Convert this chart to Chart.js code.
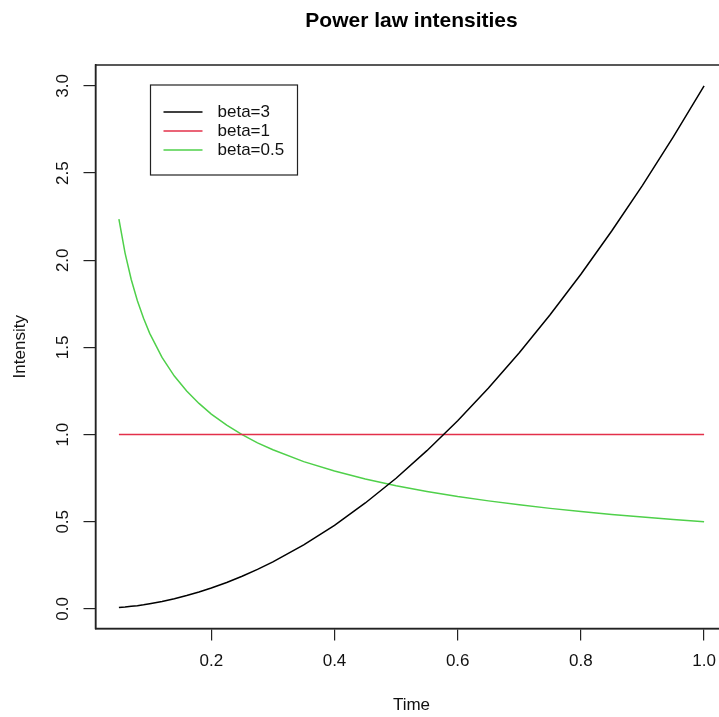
<!DOCTYPE html>
<html>
<head>
<meta charset="utf-8">
<script src="https://cdn.jsdelivr.net/npm/chart.js@4/dist/chart.umd.min.js"></script>
<style>
  html, body { margin: 0; padding: 0; background: #fff; overflow: hidden; }
  #wrap { width: 719px; height: 717px; overflow: hidden; }
</style>
</head>
<body>
<div id="wrap"><canvas id="powerChart" width="740" height="717"></canvas></div>
<script>
// values
const times = [0.05, 0.06, 0.07, 0.08, 0.09, 0.10, 0.12, 0.14, 0.16, 0.18,
               0.20, 0.225, 0.25, 0.275, 0.30, 0.35, 0.40, 0.45, 0.50, 0.55,
               0.60, 0.65, 0.70, 0.75, 0.80, 0.85, 0.90, 0.95, 1.00];
const beta3 = [0.008, 0.011, 0.015, 0.019, 0.024, 0.03, 0.043, 0.059, 0.077, 0.097,
               0.12, 0.152, 0.188, 0.227, 0.27, 0.368, 0.48, 0.608, 0.75, 0.908,
               1.08, 1.268, 1.47, 1.688, 1.92, 2.168, 2.43, 2.708, 3.00];
const beta1 = [1, 1, 1, 1, 1, 1, 1, 1, 1, 1,
               1, 1, 1, 1, 1, 1, 1, 1, 1, 1,
               1, 1, 1, 1, 1, 1, 1, 1, 1];
const beta05 = [2.236, 2.041, 1.890, 1.768, 1.667, 1.581, 1.443, 1.336, 1.250, 1.179,
                1.118, 1.054, 1.000, 0.953, 0.913, 0.845, 0.791, 0.745, 0.707, 0.674,
                0.645, 0.620, 0.598, 0.577, 0.559, 0.542, 0.527, 0.513, 0.500];
const seriesLabels = ['beta=3', 'beta=1', 'beta=0.5'];
const seriesColors = ['#000000', '#e3304a', '#4fd04a'];
const xTicks = [0.2, 0.4, 0.6, 0.8, 1.0];
const yTicks = [0.0, 0.5, 1.0, 1.5, 2.0, 2.5, 3.0];
const mainTitle = 'Power law intensities';
const xTitle = 'Time';
const yTitle = 'Intensity';

const FONT = '"Liberation Sans", Arial, Helvetica, sans-serif';

function toPoints(ys) {
    return times.map((t, i) => ({ x: t, y: ys[i] }));
}

// R style extras: box, rotated y labels, titles, legend
const rStyle = {
    id: 'rStyle',
    afterDraw(chart) {
        const ctx = chart.ctx;
        const a = chart.chartArea;
        const yScale = chart.scales.y;
        ctx.save();

        // plot box
        ctx.strokeStyle = '#222';
        ctx.lineWidth = 1.5;
        ctx.strokeRect(a.left, a.top, a.right - a.left, a.bottom - a.top);

        // y tick labels, rotated like R
        ctx.fillStyle = '#111';
        ctx.font = '17px ' + FONT;
        ctx.textAlign = 'center';
        ctx.textBaseline = 'middle';
        yTicks.forEach(v => {
            ctx.save();
            ctx.translate(a.left - 32, yScale.getPixelForValue(v));
            ctx.rotate(-Math.PI / 2);
            ctx.fillText(v.toFixed(1), 0, 0);
            ctx.restore();
        });

        // axis titles
        ctx.fillText(xTitle, (a.left + a.right) / 2, a.bottom + 77);
        ctx.save();
        ctx.translate(a.left - 75, (a.top + a.bottom) / 2);
        ctx.rotate(-Math.PI / 2);
        ctx.fillText(yTitle, 0, 0);
        ctx.restore();

        // main title
        ctx.font = 'bold 21px ' + FONT;
        ctx.fillStyle = '#000';
        ctx.fillText(mainTitle, (a.left + a.right) / 2, 21);

        // legend box
        const lx = a.left + 55, ly = a.top + 20, lw = 147, lh = 90;
        ctx.fillStyle = '#fff';
        ctx.fillRect(lx, ly, lw, lh);
        ctx.strokeStyle = '#222';
        ctx.lineWidth = 1.2;
        ctx.strokeRect(lx, ly, lw, lh);
        ctx.font = '17px ' + FONT;
        ctx.textAlign = 'left';
        chart.data.datasets.forEach((ds, i) => {
            const ry = ly + 27 + i * 19;
            ctx.strokeStyle = ds.borderColor;
            ctx.lineWidth = 1.5;
            ctx.beginPath();
            ctx.moveTo(lx + 13, ry);
            ctx.lineTo(lx + 52, ry);
            ctx.stroke();
            ctx.fillStyle = '#111';
            ctx.fillText(ds.label, lx + 67, ry);
        });
        ctx.restore();
    }
};

const ctx = document.getElementById('powerChart').getContext('2d');
const powerChart = new Chart(ctx, {
    type: 'scatter',
    data: {
        datasets: [beta3, beta1, beta05].map((ys, i) => ({
            label: seriesLabels[i],
            data: toPoints(ys),
            showLine: true,
            borderColor: seriesColors[i],
            backgroundColor: seriesColors[i],
            borderWidth: 1.5,
            pointRadius: 0,
            tension: 0,
            fill: false
        }))
    },
    options: {
        responsive: false,
        animation: false,
        layout: { padding: { top: 65, right: 12.5, bottom: 0, left: 0 } },
        plugins: {
            legend: { display: false },
            title: { display: false },
            tooltip: { enabled: false }
        },
        scales: {
            x: {
                type: 'linear',
                min: 0.012,
                max: 1.038,
                afterBuildTicks: s => { s.ticks = xTicks.map(v => ({ value: v })); },
                afterFit: s => { s.height = 88.5; },
                grid: {
                    drawOnChartArea: false,
                    drawTicks: true,
                    tickLength: 12,
                    color: '#222',
                    lineWidth: 1.2
                },
                border: { display: true, color: '#222', width: 1.5 },
                ticks: {
                    color: '#111',
                    padding: 11,
                    maxRotation: 0,
                    font: { family: FONT, size: 17 },
                    callback: v => Number(v).toFixed(1)
                }
            },
            y: {
                type: 'linear',
                min: -0.112,
                max: 3.12,
                afterBuildTicks: s => { s.ticks = yTicks.map(v => ({ value: v })); },
                afterFit: s => { s.width = 95.5; },
                grid: {
                    drawOnChartArea: false,
                    drawTicks: true,
                    tickLength: 12,
                    color: '#222',
                    lineWidth: 1.2
                },
                border: { display: true, color: '#222', width: 1.5 },
                ticks: { display: false }
            }
        }
    },
    plugins: [rStyle]
});
</script>
</body>
</html>
